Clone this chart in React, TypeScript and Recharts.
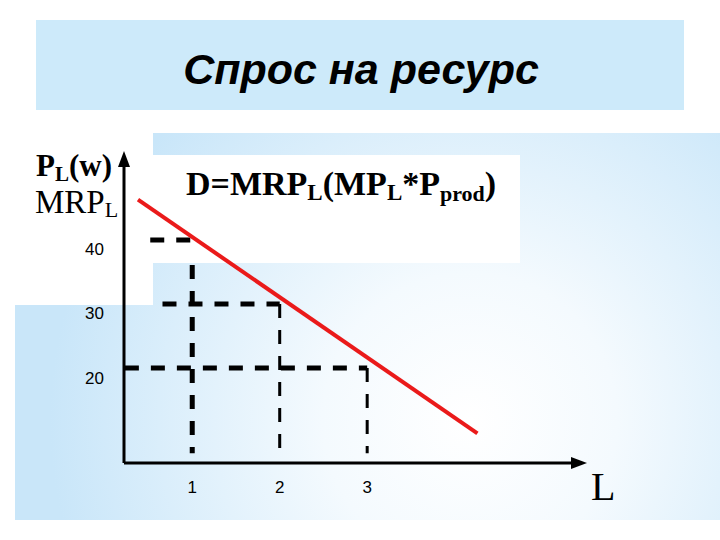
import React from "react";
import { ComposedChart, Line, XAxis, YAxis, ReferenceLine } from "recharts";

// demand curve D = MRP_L
const demandCurve = [
  { L: 0.38, D: 46.3 },
  { L: 4.26, D: 9.8 },
];

const xTicks = [1, 2, 3];
const yTicks = [20, 30, 40];

// dashed guide lines: [x1, y1, x2, y2]
const priceGuides = [
  [0.52, 40, 1, 40],
  [0.66, 30, 2, 30],
  [0.23, 20, 3, 20],
];
const quantityGuides = [
  [1, 36.1, 1, 6.7],
  [2, 30, 2, 6.7],
  [3, 20, 3, 6.7],
];
const guideWidths = [5, 3, 3];

const SERIF = "'Liberation Serif', 'Times New Roman', serif";
const SANS = "'Liberation Sans', Arial, sans-serif";

const YTick = (props: any) => {
  const { x, y, payload } = props;
  return (
    <text x={x} y={y + 10} textAnchor="end" dominantBaseline="central" fontFamily={SANS} fontSize={17} fill="#000">
      {payload.value}
    </text>
  );
};

const XTick = (props: any) => {
  const { x, y, payload } = props;
  return (
    <text x={x} y={y + 24} textAnchor="middle" dominantBaseline="central" fontFamily={SANS} fontSize={17} fill="#000">
      {payload.value}
    </text>
  );
};

function Backdrop() {
  return (
    <svg width={720} height={540} style={{ position: "absolute", left: 0, top: 0 }}>
      <defs>
        <radialGradient id="panelGlow" gradientUnits="userSpaceOnUse" cx={470} cy={420} r={420}>
          <stop offset="0%" stopColor="#ffffff" />
          <stop offset="35%" stopColor="#f4fafe" />
          <stop offset="100%" stopColor="#c9e6f9" />
        </radialGradient>
        <marker
          id="axisArrow"
          viewBox="0 0 16 12"
          refX={0}
          refY={6}
          markerWidth={16}
          markerHeight={12}
          markerUnits="userSpaceOnUse"
          orient="auto-start-reverse"
        >
          <path d="M0,0 L16,6 L0,12 z" fill="#000" />
        </marker>
      </defs>
      <rect x={0} y={0} width={720} height={540} fill="#ffffff" />
      <rect x={36} y={20} width={648} height={90} fill="#cdeafa" />
      <text x={361} y={84} textAnchor="middle" fontFamily={SANS} fontWeight="bold" fontStyle="italic" fontSize={43} fill="#000">
        Спрос на ресурс
      </text>
      <rect x={15} y={133} width={705} height={387} fill="url(#panelGlow)" />
      <rect x={15} y={133} width={138} height={172} fill="#ffffff" />
      <rect x={153} y={155} width={367} height={108} fill="#ffffff" />

      <text x={36} y={176} fontFamily={SERIF} fontWeight="bold" fontSize={31} fill="#000">
        P<tspan fontSize={21} dy={5}>L</tspan>
        <tspan dy={-5}>(w)</tspan>
      </text>
      <text x={35} y={213} fontFamily={SERIF} fontSize={33} fill="#000">
        MRP<tspan fontSize={22} dy={4}>L</tspan>
      </text>
      <text x={186} y={195} fontFamily={SERIF} fontWeight="bold" fontSize={34} fill="#000">
        D=MRP<tspan fontSize={23} dy={5}>L</tspan>
        <tspan dy={-5}>(MP</tspan>
        <tspan fontSize={23} dy={5}>L</tspan>
        <tspan dy={-5}>*P</tspan>
        <tspan fontSize={22} dy={6}>prod</tspan>
        <tspan dy={-6}>)</tspan>
      </text>
      <text x={591} y={500} fontFamily={SERIF} fontSize={40} fill="#000">
        L
      </text>
    </svg>
  );
}

export default function App() {
  return (
    <div style={{ position: "absolute", left: 0, top: 0, width: 720, height: 540 }}>
      <Backdrop />
      <div style={{ position: "absolute", left: 0, top: 0 }}>
        <ComposedChart
          width={720}
          height={540}
          data={demandCurve}
          margin={{ top: 167, right: 149, left: 64, bottom: 47 }}
        >
          <XAxis
            dataKey="L"
            type="number"
            domain={[0.22, 5.33]}
            ticks={xTicks}
            height={30}
            tickLine={false}
            tickSize={0}
            tickMargin={0}
            tick={<XTick />}
            axisLine={{ stroke: "#000", strokeWidth: 3, markerEnd: "url(#axisArrow)" }}
            allowDataOverflow
          />
          <YAxis
            type="number"
            domain={[5.16, 51.4]}
            ticks={yTicks}
            width={60}
            tickLine={false}
            tickSize={0}
            tickMargin={20}
            tick={<YTick />}
            axisLine={{ stroke: "#000", strokeWidth: 3, markerStart: "url(#axisArrow)" }}
            allowDataOverflow
          />
          {priceGuides.map(([x1, y1, x2, y2], i) => (
            <ReferenceLine
              key={`p-${i}`}
              segment={[{ x: x1, y: y1 }, { x: x2, y: y2 }]}
              stroke="#000"
              strokeWidth={5}
              strokeDasharray="14 12"
            />
          ))}
          {quantityGuides.map(([x1, y1, x2, y2], i) => (
            <ReferenceLine
              key={`q-${i}`}
              segment={[{ x: x1, y: y1 }, { x: x2, y: y2 }]}
              stroke="#000"
              strokeWidth={guideWidths[i]}
              strokeDasharray="14 12"
            />
          ))}
          <Line
            dataKey="D"
            type="linear"
            stroke="#ea1a1a"
            strokeWidth={4}
            dot={false}
            activeDot={false}
            isAnimationActive={false}
          />
        </ComposedChart>
      </div>
    </div>
  );
}
